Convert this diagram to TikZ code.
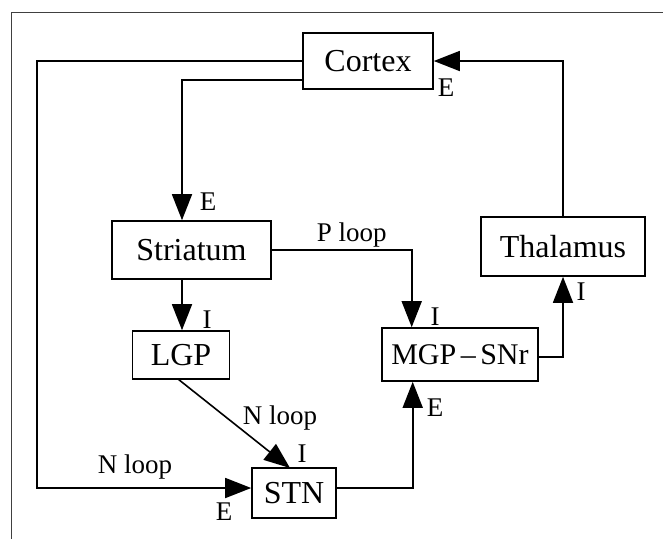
\documentclass[tikz,border=0pt]{standalone}
\usepackage{fontspec}
\setmainfont{Liberation Serif}
\usetikzlibrary{arrows.meta}
\begin{document}
\begin{tikzpicture}[x=1pt,y=-1pt,
  box/.style={draw,line width=1.6pt,inner sep=0pt,font=\fontsize{32}{38}\selectfont},
  conn/.style={line width=1.6pt},
  arr/.style={conn,-{Triangle[length=26pt,width=20pt]}},
  lbl/.style={inner sep=0pt,font=\fontsize{27}{32}\selectfont}]
\useasboundingbox (0,0) rectangle (663,539);
% frame
\draw[line width=1pt,black!75] (663,12) -- (11,12) -- (11,539);
% nodes
\node[box,minimum width=130pt,minimum height=56pt] (Cortex) at (368,61) {Cortex};
\node[box,minimum width=159pt,minimum height=58pt] (Striatum) at (191.5,250) {Striatum};
\node[box,minimum width=164pt,minimum height=59pt] (Thalamus) at (563,246.5) {Thalamus};
\node[box,minimum width=97pt,minimum height=48pt] (LGP) at (181,355) {LGP};
\node[box,minimum width=156pt,minimum height=53pt,font=\fontsize{30}{36}\selectfont] (MGP) at (460,354.5) {MGP\hspace{.15em}--\hspace{.15em}SNr};
\node[box,minimum width=84pt,minimum height=50pt] (STN) at (294,493) {STN};
% connectors
\coordinate (cL1) at (36.7,61);
\coordinate (cL2) at (36.7,488);
\draw[arr] (Cortex.west) -- (cL1) -- (cL2) -- (STN.west |- cL2);
\coordinate (cS) at (182,80);
\draw[arr] (Cortex.west |- cS) -- (cS) -- (cS |- Striatum.north);
\coordinate (cT) at (563,61);
\draw[arr] (cT |- Thalamus.north) -- (cT) -- (Cortex.east);
\coordinate (sb) at (182,279);
\draw[arr] (sb) -- (sb |- LGP.north);
\coordinate (cP) at (411.7,250);
\draw[arr] (Striatum.east) -- (cP) -- (cP |- MGP.north);
\coordinate (lgpb) at (178,379);
\coordinate (stnt) at (290,468);
\draw[arr] (lgpb) -- (stnt);
\coordinate (cN) at (412.7,488);
\draw[arr] (STN.east |- cN) -- (cN) -- (cN |- MGP.south);
\coordinate (cM) at (563,356.7);
\draw[arr] (MGP.east |- cM) -- (cM) -- (cM |- Thalamus.south);
% labels
\node[lbl] (l1) at (446,88) {E};
\node[lbl] (l2) at (208,202) {E};
\node[lbl] (l3) at (351.7,235) {P loop};
\node[lbl] (l4) at (207,320) {I};
\node[lbl] (l5) at (435,317) {I};
\node[lbl] (l6) at (581,292) {I};
\node[lbl] (l7) at (435,408) {E};
\node[lbl] (l8) at (280,418) {N loop};
\node[lbl] (l9) at (302,454) {I};
\node[lbl] (l10) at (135,466.7) {N loop};
\node[lbl] (l11) at (224,512) {E};
\end{tikzpicture}
\end{document}
